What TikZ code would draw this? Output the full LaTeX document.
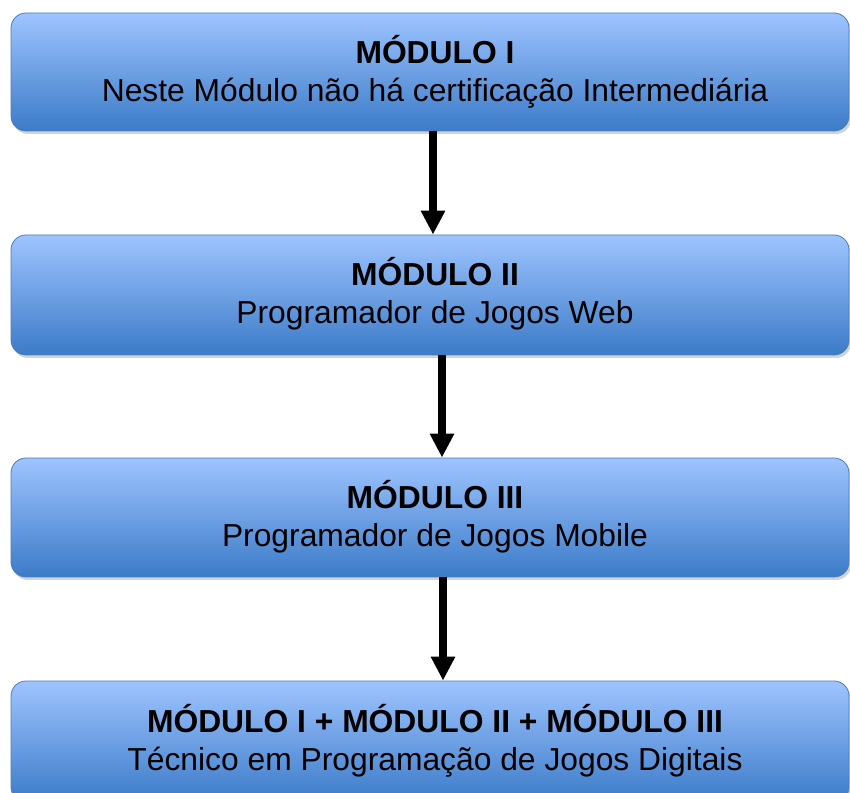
\documentclass[tikz,border=0pt]{standalone}
\usepackage{fontspec}
\setmainfont{Liberation Sans}
\usetikzlibrary{arrows.meta,shadows}
\definecolor{boxtop}{RGB}{158,196,255}
\definecolor{boxbot}{RGB}{60,123,200}
\definecolor{boxedge}{RGB}{74,126,187}
\tikzset{
  modbox/.style={rounded corners=15pt, draw=boxedge, line width=0.8pt,
    top color=boxtop, bottom color=boxbot, minimum width=838pt, inner sep=0pt,
    drop shadow={opacity=0.35, shadow xshift=2pt, shadow yshift=-3pt}},
  ttl/.style={anchor=base, font=\fontsize{31.8}{34}\selectfont\bfseries, inner sep=0pt},
  sub/.style={anchor=base, font=\fontsize{31.8}{34}\selectfont, inner sep=0pt},
  flow/.style={line width=8.5pt, -{Triangle[width=23pt,length=24pt]}, black}
}
\begin{document}
\begin{tikzpicture}[x=1pt,y=1pt]
\useasboundingbox (0,0) rectangle (850,792);
\begin{scope}
\clip (0,0) rectangle (850,792);
\node[modbox, minimum height=118pt] (box1) at (430,720) {};
\node[modbox, minimum height=120pt] (box2) at (430,497) {};
\node[modbox, minimum height=119pt] (box3) at (430,274.5) {};
\node[modbox, minimum height=121pt] (box4) at (430,50.5) {};
\end{scope}
\node[ttl] (t1) at (435,728) {MÓDULO I};
\node[sub] (s1) at (435,690) {Neste Módulo não há certificação Intermediária};
\node[ttl] (t2) at (435,506) {MÓDULO II};
\node[sub] (s2) at (435,468) {Programador de Jogos Web};
\node[ttl] (t3) at (435,283) {MÓDULO III};
\node[sub] (s3) at (435,245) {Programador de Jogos Mobile};
\node[ttl] (t4) at (435,60) {MÓDULO I + MÓDULO II + MÓDULO III};
\node[sub] (s4) at (435,22) {Técnico em Programação de Jogos Digitais};
\draw[flow] ([xshift=3pt]box1.south) -- ([xshift=3pt]box2.north);
\draw[flow] ([xshift=12pt]box2.south) -- ([xshift=12pt]box3.north);
\draw[flow] ([xshift=13pt]box3.south) -- ([xshift=13pt]box4.north);
\end{tikzpicture}
\end{document}
